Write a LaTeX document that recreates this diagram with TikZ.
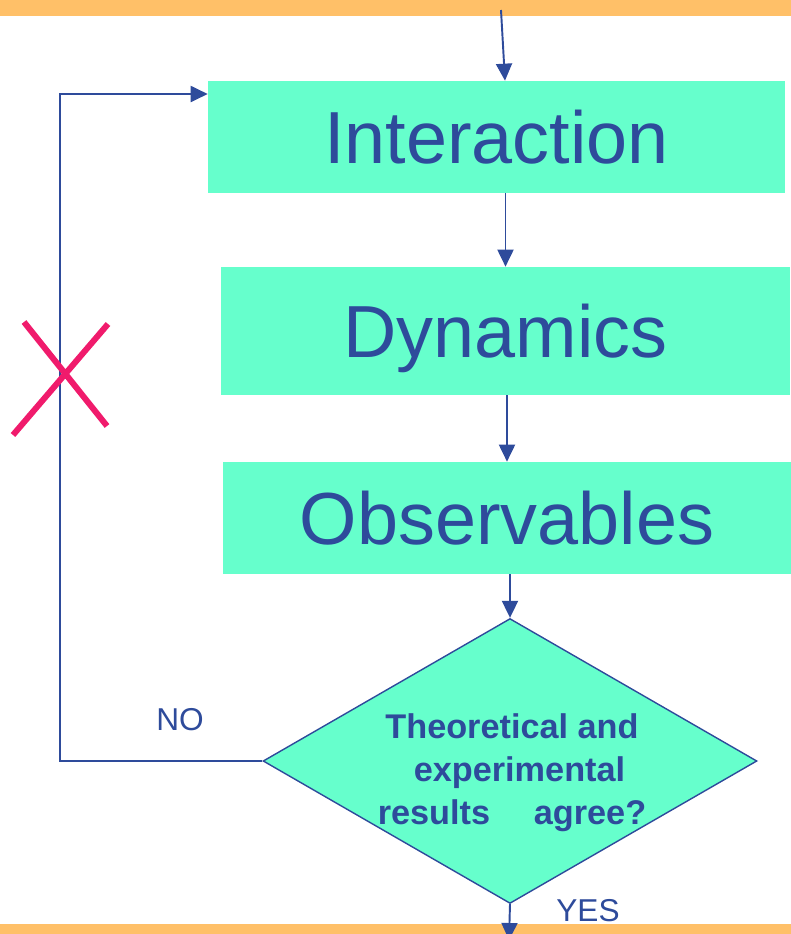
\documentclass[tikz,border=0pt]{standalone}
\usepackage{fontspec}
\setmainfont{Liberation Sans}
\usetikzlibrary{arrows.meta,positioning,calc,shapes.geometric}
\definecolor{navy}{HTML}{2E4B9B}
\definecolor{mint}{HTML}{66FFCC}
\definecolor{sand}{HTML}{FFC068}
\definecolor{strike}{HTML}{F01B6C}

\begin{document}
\begin{tikzpicture}[x=0.02cm, y=-0.02cm,
  stage/.style={fill=mint, inner sep=0pt, text=navy, font=\fontsize{42}{50}\selectfont},
  query/.style={diamond, draw=navy, line width=0.8pt, fill=mint, inner sep=0pt, aspect=1.73, minimum width=9.88cm, minimum height=5.7cm},
  qtext/.style={text=navy, align=center, inner sep=0pt, font=\bfseries\fontsize{19.5}{24.4}\selectfont},
  tag/.style={text=navy, font=\fontsize{18}{20}\selectfont},
  arr/.style={-{Triangle[length=0.34cm, width=0.32cm]}, navy, line width=1.1pt}
]
\useasboundingbox (0,0) rectangle (791,934);
\fill[sand] (0,0) rectangle (791,16);
\fill[sand] (0,924) rectangle (791,934);

\node[stage, minimum width=11.54cm, minimum height=2.24cm] (intr) at (496.5,137) {Interaction};
\node[stage, minimum width=11.38cm, minimum height=2.56cm, text depth=0pt] (dyn) at (505.5,331) {Dynamics};
\node[stage, minimum width=11.36cm, minimum height=2.24cm] (obs)  at (507,518)   {Observables};
\node[query] (dec) at (510,761) {};
\node[qtext] (ask) at (512,773) {Theoretical and\\ \hspace{0.3cm}experimental\\results \quad agree?};
\node[tag] (no)  at (180,720) {NO};
\node[tag] (yes) at (588,911) {YES};

\coordinate (src)  at (501,10);
\coordinate (loop) at (60,94);
\coordinate (exit) at (509,940);
\draw[arr] (src) -- ($(intr.north)+(8.5,0)$);
\draw[arr] (intr.south -| dyn.north) -- (dyn.north);
\draw[arr] (dyn.south -| obs.north) -- (obs.north);
\draw[arr] (obs.south -| dec.north) -- (dec.north);
\draw[arr] (dec.west) -| (loop) -- (intr.west |- loop);
\draw[arr] (dec.south) -- (exit);

% the loop is ruled out
\draw[strike, line width=0.12cm] (24,322) -- (107,426) (13,435) -- (108,324);
\end{tikzpicture}
\end{document}
